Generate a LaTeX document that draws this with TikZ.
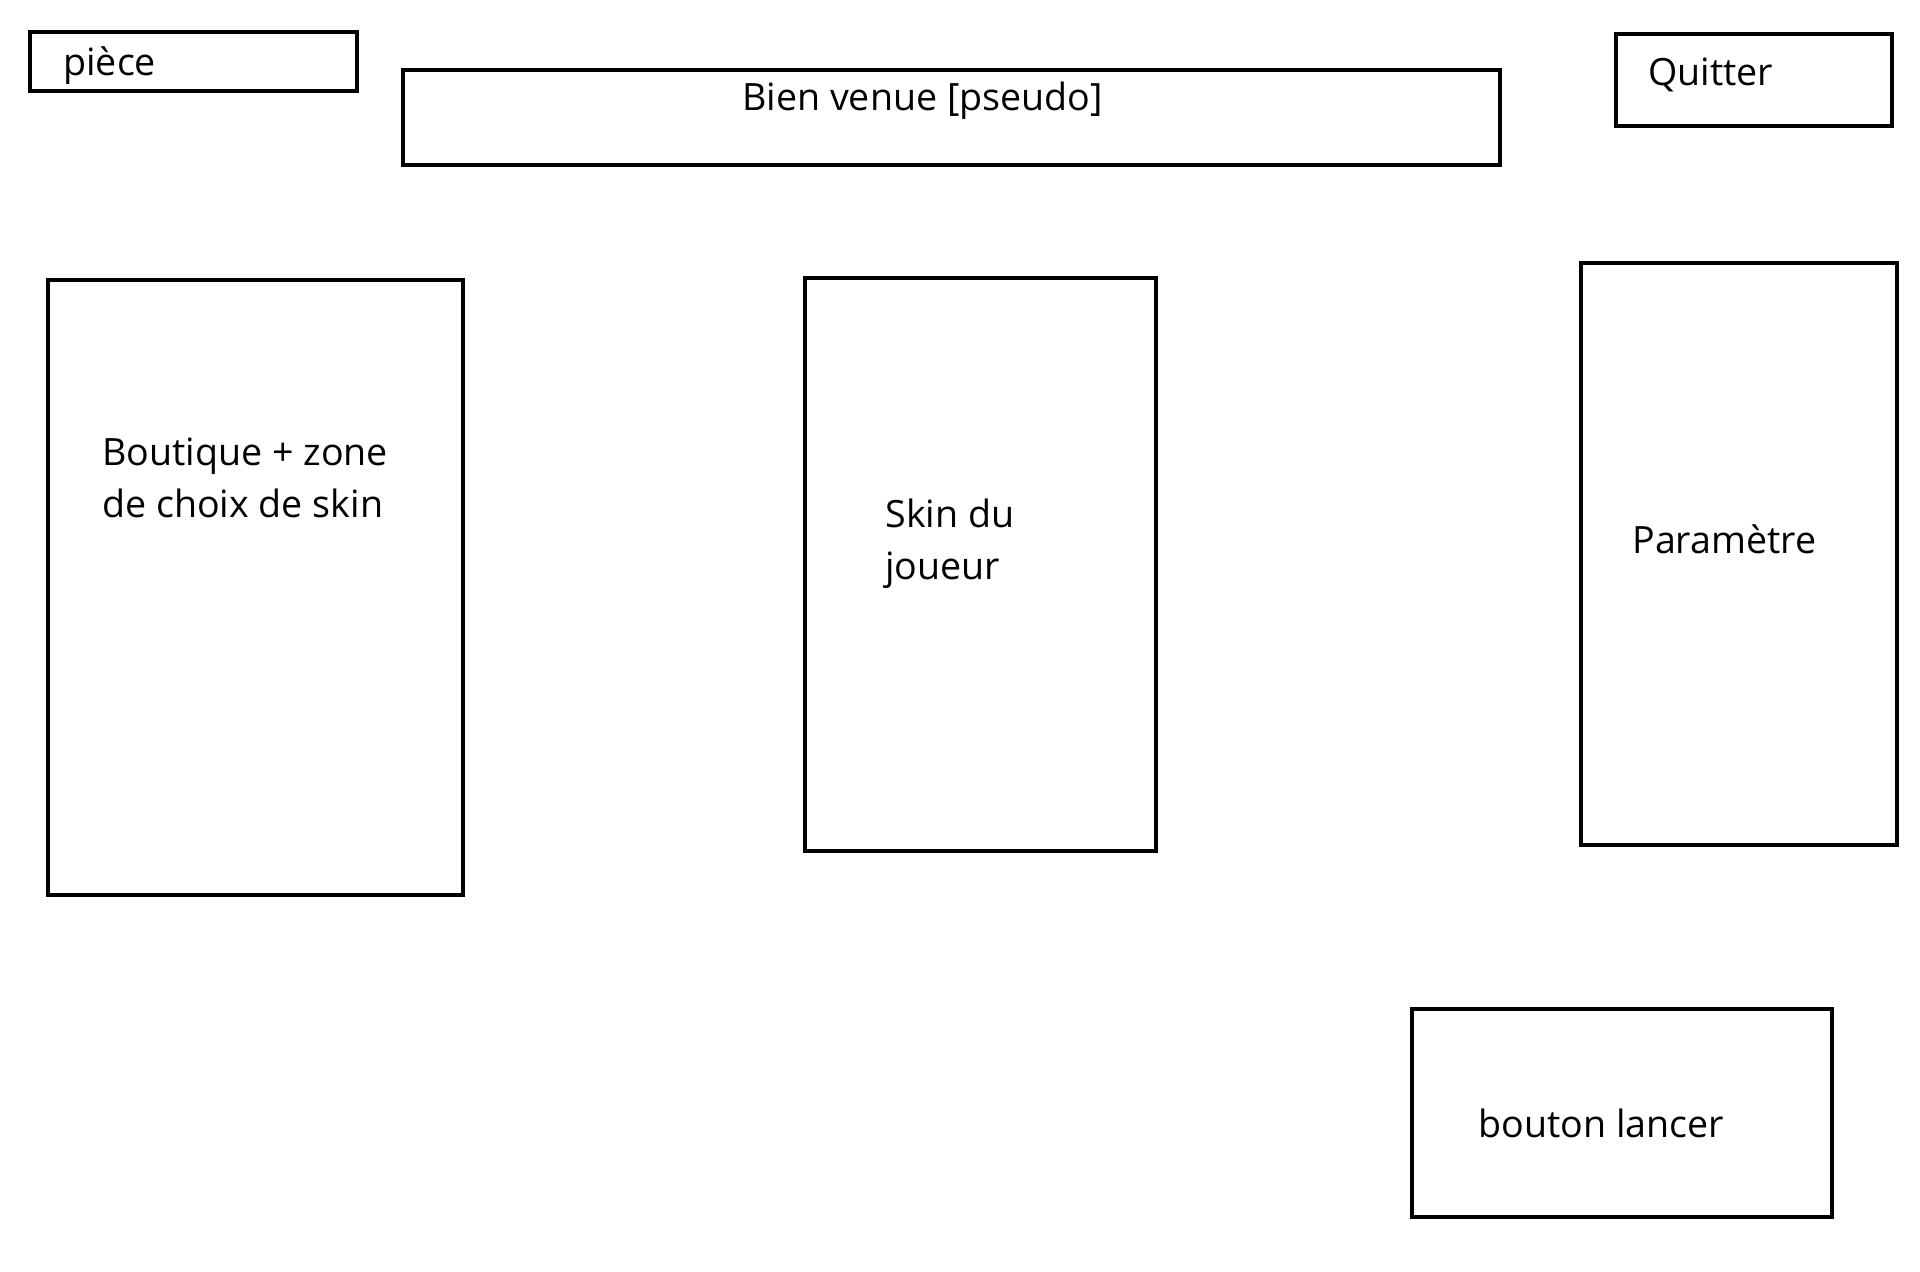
\documentclass[tikz,border=0pt]{standalone}
\usepackage{fontspec}
\setmainfont{Open Sans}
\usetikzlibrary{positioning}

\begin{document}
\begin{tikzpicture}[
    x=0.02cm, y=-0.02cm,
    frame/.style={draw, line width=2.7pt},
    lbl/.style={anchor=base west, inner sep=0pt, align=left,
                font=\fontsize{21.4}{29.5}\selectfont}
]
\useasboundingbox (0,0) rectangle (1920,1271);

% top bar
\draw[frame] (30,32) rectangle (357,91);
\node[lbl] (piece) at (63,75) {pièce};
\draw[frame] (403,70) rectangle (1500,165);
\node[lbl] (bienvenue) at (742,110) {Bien venue [pseudo]};
\draw[frame] (1616,34) rectangle (1892,126);
\node[lbl] (quitter) at (1648,85) {Quitter};

% three panels (base = last line)
\draw[frame] (48,280) rectangle (463,895);
\node[lbl] (boutique) at (102,517) {Boutique + zone\\de choix de skin};
\draw[frame] (805,278) rectangle (1156,851);
\node[lbl] (skin) at (885,579) {Skin du\\joueur};
\draw[frame] (1581,263) rectangle (1897,845);
\node[lbl] (param) at (1632,553) {Paramètre};

% launch button
\draw[frame] (1412,1009) rectangle (1832,1217);
\node[lbl] (lancer) at (1478,1137) {bouton lancer};

\end{tikzpicture}
\end{document}
